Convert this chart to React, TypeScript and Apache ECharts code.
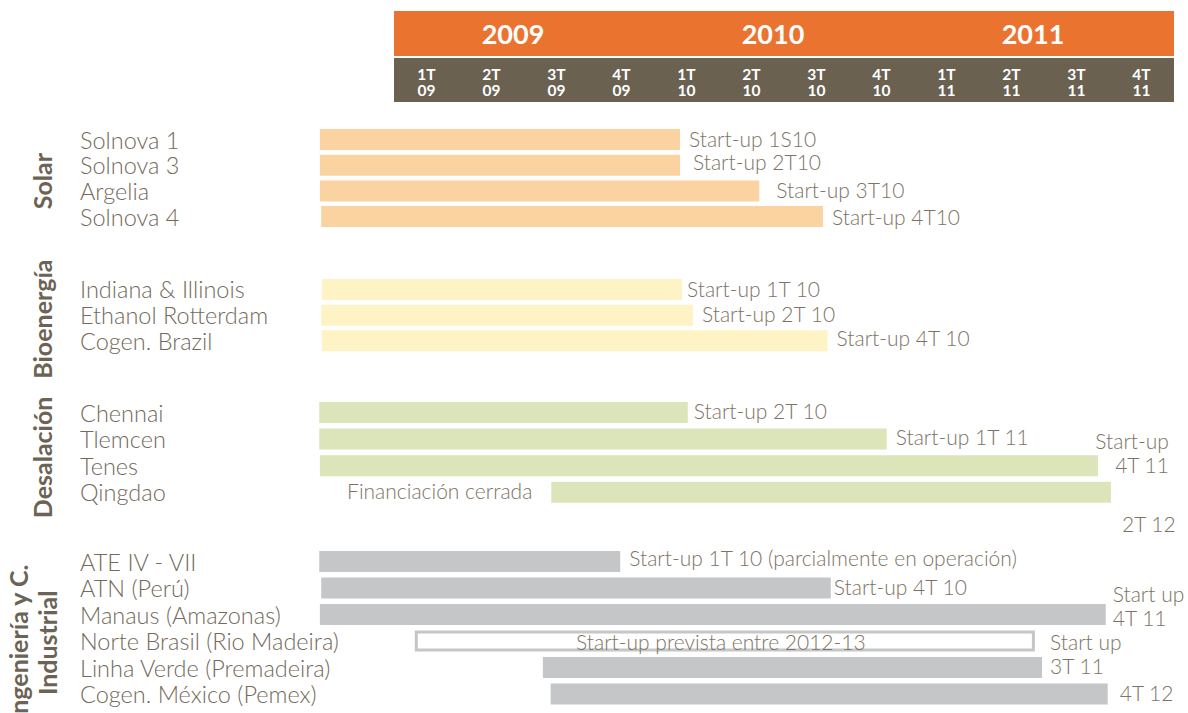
import React, { useEffect, useRef } from "react";
import * as echarts from "echarts";

// ---------- DATA ----------
const years = ["2009", "2010", "2011"];
const quarterLabels = ["1T", "2T", "3T", "4T", "1T", "2T", "3T", "4T", "1T", "2T", "3T", "4T"];
const quarterYears = ["09", "09", "09", "09", "10", "10", "10", "10", "11", "11", "11", "11"];

// time unit: quarters counted from the start of 1T 09
const solarRows = ["Solnova 1", "Solnova 3", "Argelia", "Solnova 4"];
const solarStart = [-1.14, -1.14, -1.14, -1.12];
const solarEnd = [4.4, 4.4, 5.62, 6.6];
const solarNotes = ["Start-up 1S10", "Start-up 2T10", "Start-up 3T10", "Start-up 4T10"];

const bioRows = ["Indiana & Illinois", "Ethanol Rotterdam", "Cogen. Brazil"];
const bioStart = [-1.11, -1.12, -1.11];
const bioEnd = [4.43, 4.6, 6.67];
const bioNotes = ["Start-up 1T 10", "Start-up 2T 10", "Start-up 4T 10"];

const desalRows = ["Chennai", "Tlemcen", "Tenes", "Qingdao"];
const desalStart = [-1.15, -1.15, -1.14, 2.42];
const desalEnd = [4.52, 7.58, 10.83, 11.03];
const desalNotes = ["Start-up 2T 10", "Start-up 1T 11", "Start-up\n4T 11", "2T 12"];
const desalPreNotes = ["", "", "", "Financiación cerrada"];

const indRows = [
  "ATE IV - VII",
  "ATN (Perú)",
  "Manaus (Amazonas)",
  "Norte Brasil (Rio Madeira)",
  "Linha Verde (Premadeira)",
  "Cogen. México (Pemex)",
];
const indStart = [-1.15, -1.12, -1.14, 0.32, 2.29, 2.41];
const indEnd = [3.48, 6.72, 10.95, 9.86, 9.97, 10.98];
const indNotes = [
  "Start-up 1T 10 (parcialmente en operación)",
  "Start-up 4T 10",
  "Start up\n4T 11",
  "Start-up prevista entre 2012-13",
  "Start up\n3T 11",
  "4T 12",
];
const indPlanned = [false, false, false, true, false, false];

// ---------- STYLE / LAYOUT ----------
const FONT = "Lato, 'Open Sans', sans-serif";
const LABEL_COLOR = "#736a5b";
const NOTE_COLOR = "#7d7364";
const TITLE_COLOR = "#6c6354";

type NotePos = { anchor: "end" | "start" | "mid"; dx: number; dy: number; align: "left" | "right" | "center" };

const groups = [
  {
    title: "Solar", rows: solarRows, start: solarStart, end: solarEnd, notes: solarNotes,
    color: "#fad3a0", top: 126.7, height: 102.7, titlePad: 6, titleGap: 260, labelShift: 4,
    notePos: [
      { anchor: "end", dx: 9, dy: -1.5, align: "left" },
      { anchor: "end", dx: 13, dy: -3.5, align: "left" },
      { anchor: "end", dx: 17, dy: -1, align: "left" },
      { anchor: "end", dx: 9, dy: -0.5, align: "left" },
    ] as NotePos[],
  },
  {
    title: "Bioenergía", rows: bioRows, start: bioStart, end: bioEnd, notes: bioNotes,
    color: "#fef3c5", top: 276.6, height: 77.1, titlePad: 8, titleGap: 260, labelShift: 0,
    notePos: [
      { anchor: "end", dx: 5, dy: -0.5, align: "left" },
      { anchor: "end", dx: 9, dy: -2, align: "left" },
      { anchor: "end", dx: 9, dy: -3, align: "left" },
    ] as NotePos[],
  },
  {
    title: "Desalación", rows: desalRows, start: desalStart, end: desalEnd, notes: desalNotes,
    pre: desalPreNotes,
    color: "#dce5b9", top: 399.2, height: 106.4, titlePad: 10, titleGap: 260, labelShift: 4,
    notePos: [
      { anchor: "end", dx: 6, dy: -2.5, align: "left" },
      { anchor: "end", dx: 9, dy: -2.5, align: "left" },
      { anchor: "end", dx: 71, dy: -13, align: "right" },
      { anchor: "end", dx: 11, dy: 31.5, align: "left" },
    ] as NotePos[],
  },
  {
    title: "Ingeniería y C.\nIndustrial", rows: indRows, start: indStart, end: indEnd, notes: indNotes,
    planned: indPlanned,
    color: "#c5c6c8", top: 548.3, height: 159, titlePad: 30, titleGap: 255, labelShift: -4,
    notePos: [
      { anchor: "end", dx: 9, dy: -4.5, align: "left" },
      { anchor: "end", dx: 3, dy: -1.5, align: "left" },
      { anchor: "end", dx: 7, dy: -9.5, align: "left" },
      { anchor: "mid", dx: -4, dy: 0.5, align: "center" },
      { anchor: "end", dx: 8, dy: -14.5, align: "left" },
      { anchor: "end", dx: 12, dy: -1.5, align: "left" },
    ] as NotePos[],
  },
];

function buildOption() {
  const gridBase = { containLabel: false, outerBoundsMode: "none" };
  const headerLabel = { color: "#ffffff", fontWeight: "bold", fontFamily: FONT, interval: 0 };
  const grid: any[] = [
    { ...gridBase, left: 394, width: 780, top: 11, height: 45, show: true, backgroundColor: "#eb7330", borderWidth: 0 },
    { ...gridBase, left: 394, width: 780, top: 58, height: 44, show: true, backgroundColor: "#6a6151", borderWidth: 0 },
  ];
  const xAxis: any[] = [
    {
      gridIndex: 0, type: "category", data: years, position: "top",
      axisLine: { show: false }, axisTick: { show: false },
      axisLabel: { ...headerLabel, inside: true, margin: 9, fontSize: 27, padding: [0, 22, 0, 0] },
    },
    {
      gridIndex: 1, type: "category", data: quarterLabels, position: "top",
      axisLine: { show: false }, axisTick: { show: false },
      axisLabel: { ...headerLabel, inside: true, margin: 8, fontSize: 15.5 },
    },
    {
      gridIndex: 1, type: "category", data: quarterYears, position: "bottom",
      axisLine: { show: false }, axisTick: { show: false },
      axisLabel: { ...headerLabel, inside: true, margin: 4, fontSize: 15.5 },
    },
  ];
  const yAxis: any[] = [
    { gridIndex: 0, type: "value", show: false },
    { gridIndex: 1, type: "value", show: false },
  ];
  const series: any[] = [];

  groups.forEach((g: any, gi) => {
    const gridIdx = gi + 2;
    const xIdx = gi + 3;
    grid.push({ ...gridBase, left: 316, width: 858, top: g.top, height: g.height });
    xAxis.push({ gridIndex: gridIdx, type: "value", min: -1.2, max: 12, show: false });
    const ls = g.labelShift;
    const titleText = g.title
      .split("\n")
      .map((t: string) => "{t|" + t + "}")
      .join("\n");
    yAxis.push({
      gridIndex: gridIdx, type: "category", inverse: true, data: g.rows,
      axisLine: { show: false }, axisTick: { show: false }, splitLine: { show: false },
      axisLabel: {
        align: "left", margin: 236, color: LABEL_COLOR, fontSize: 23.5, fontWeight: 300,
        fontFamily: FONT, interval: 0, lineHeight: 22,
        padding: ls >= 0 ? [0, 0, ls, 0] : [-ls, 0, 0, 0],
      },
      name: titleText, nameLocation: "middle", nameGap: g.titleGap,
      nameTextStyle: {
        padding: [0, g.titlePad, 0, 0],
        rich: {
          t: { color: TITLE_COLOR, fontSize: 25, fontWeight: "bold", fontFamily: FONT, lineHeight: 29 },
        },
      },
    });
    series.push({
      type: "custom",
      xAxisIndex: xIdx,
      yAxisIndex: gridIdx,
      encode: { x: [0, 1], y: 2 },
      data: g.rows.map((_: string, i: number) => [g.start[i], g.end[i], i]),
      renderItem: (params: any, api: any) => {
        const i = params.dataIndex;
        const cat = api.value(2);
        const p0 = api.coord([api.value(0), cat]);
        const p1 = api.coord([api.value(1), cat]);
        const h = 21;
        const planned = g.planned && g.planned[i];
        const children: any[] = [
          {
            type: "rect",
            shape: planned
              ? { x: p0[0] + 1.5, y: p0[1] - h / 2 + 1.5, width: p1[0] - p0[0] - 3, height: h - 3 }
              : { x: p0[0], y: p0[1] - h / 2, width: p1[0] - p0[0], height: h },
            style: planned
              ? { fill: "#ffffff", stroke: g.color, lineWidth: 3 }
              : { fill: g.color },
          },
        ];
        const np: NotePos = g.notePos[i];
        const ax = np.anchor === "start" ? p0[0] : np.anchor === "mid" ? (p0[0] + p1[0]) / 2 : p1[0];
        children.push({
          type: "text",
          x: ax + np.dx,
          y: p0[1] + np.dy,
          style: {
            text: g.notes[i], fill: NOTE_COLOR, fontSize: 21, fontWeight: 300, fontFamily: FONT,
            align: np.align, verticalAlign: "middle", lineHeight: 24,
          },
        });
        if (g.pre && g.pre[i]) {
          children.push({
            type: "text",
            x: p0[0] - 19,
            y: p0[1] - 1.5,
            style: {
              text: g.pre[i], fill: NOTE_COLOR, fontSize: 21, fontWeight: 300, fontFamily: FONT,
              align: "right", verticalAlign: "middle",
            },
          });
        }
        return { type: "group", children };
      },
    });
  });

  return {
    animation: false,
    backgroundColor: "#ffffff",
    grid,
    xAxis,
    yAxis,
    series,
  };
}

export default function App() {
  const ref = useRef<HTMLDivElement>(null);
  useEffect(() => {
    const chart = echarts.init(ref.current!, null, { renderer: "svg" });
    chart.setOption(buildOption() as any);
    return () => chart.dispose();
  }, []);
  return (
    <div
      ref={ref}
      style={{ position: "fixed", left: 0, top: 0, width: 1188, height: 713, background: "#fff" }}
    />
  );
}
